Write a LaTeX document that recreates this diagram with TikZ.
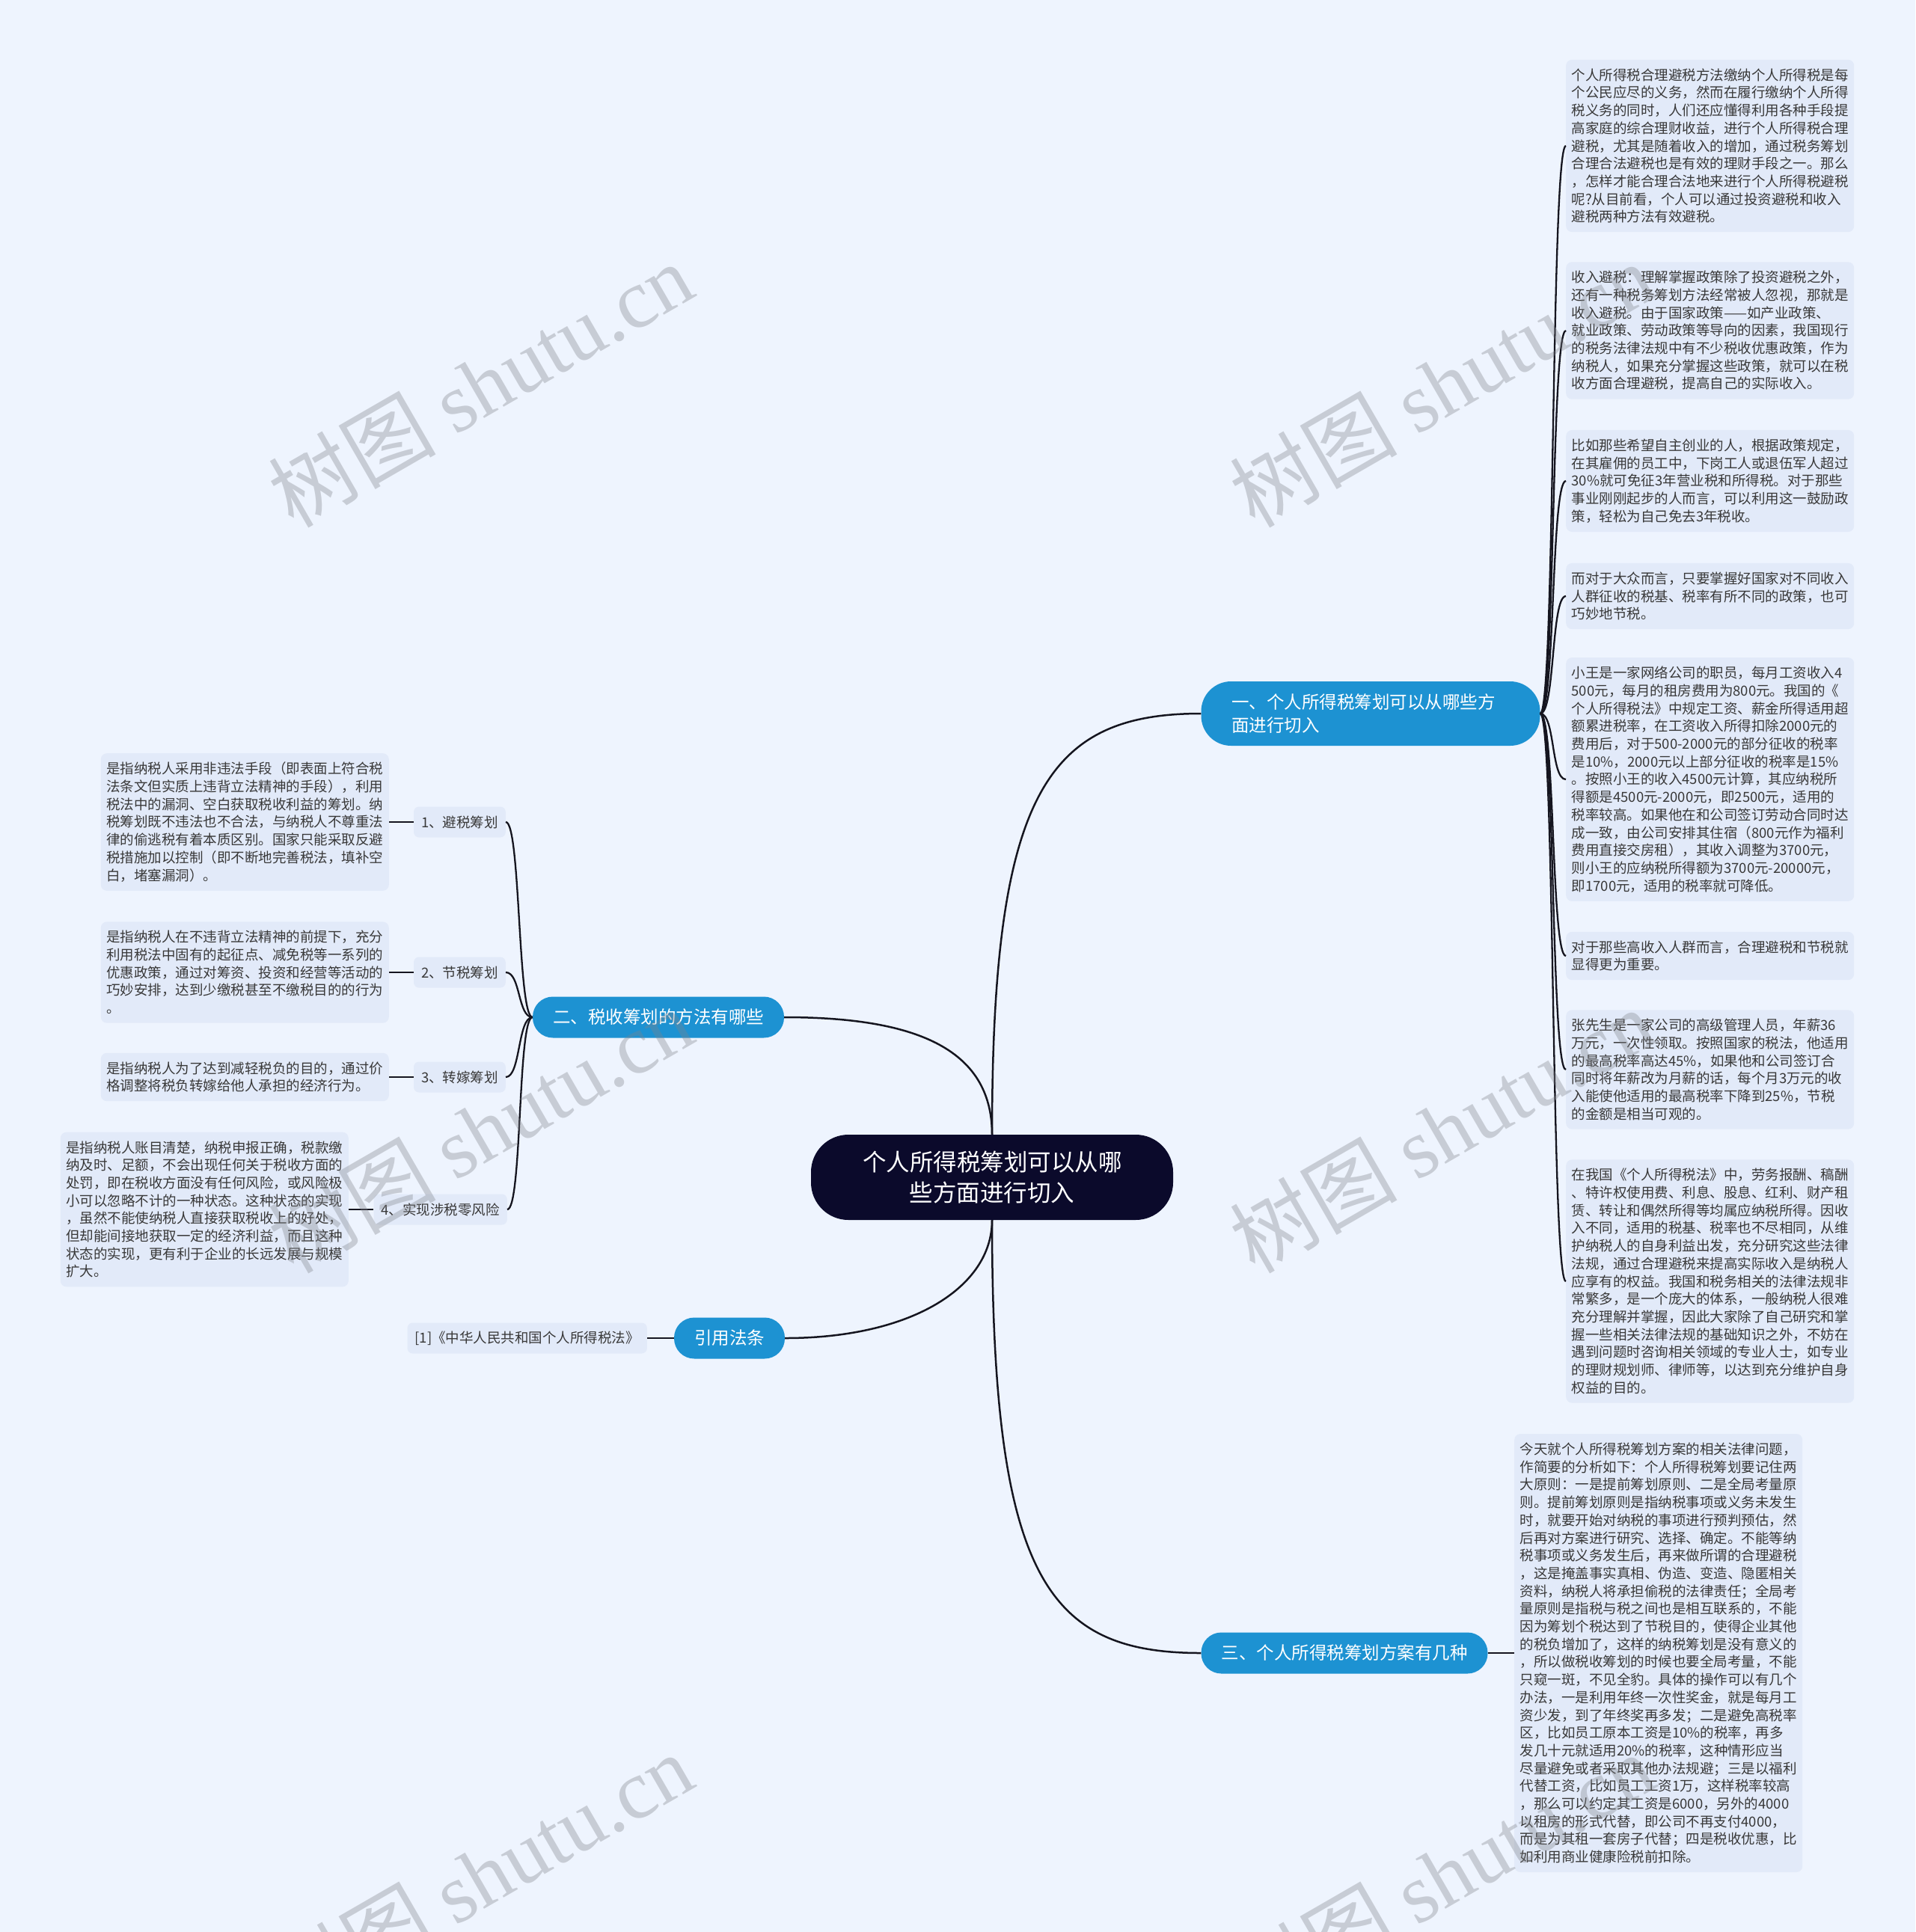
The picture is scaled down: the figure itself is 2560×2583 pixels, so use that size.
\documentclass[tikz,border=0pt]{standalone}
\usepackage{fontspec}
\setmainfont{Noto Sans CJK SC}
\newfontfamily\wmlatin{Liberation Serif}
\usepackage{xcolor}
\usepackage{tikz}

\definecolor{pagebg}{HTML}{EEF4FE}
\definecolor{notefill}{HTML}{E2EAF9}
\definecolor{topicblue}{HTML}{1D92D2}
\definecolor{rootnavy}{HTML}{0B0A2B}
\definecolor{notetext}{HTML}{383838}
\definecolor{linedark}{HTML}{15151F}
\definecolor{wmgray}{HTML}{80838A}

\newcommand{\notesize}{\fontsize{18.5pt}{23.7pt}\selectfont}
\newcommand{\topicsize}{\fontsize{23.5pt}{31pt}\selectfont}
\newcommand{\rootsize}{\fontsize{31.5pt}{41pt}\selectfont}
\newcommand{\wmsize}{\fontsize{112pt}{112pt}\selectfont}

\begin{document}
\begin{tikzpicture}[x=1pt, y=-1pt,
  notebox/.style={fill=notefill, rounded corners=8pt, text=notetext, font=\notesize, text width=370pt, align=left, inner xsep=7.5pt, inner ysep=11.8pt},
  subtag/.style={fill=notefill, rounded corners=7pt, text=notetext, font=\notesize, inner xsep=10pt, inner ysep=2pt, minimum height=41pt},
  topicnode/.style={fill=topicblue, text=white, font=\topicsize, rounded corners=27pt, inner xsep=27pt, inner ysep=2pt, minimum height=55pt},
  rootnode/.style={fill=rootnavy, text=white, font=\rootsize, rounded corners=50pt, text width=346pt, align=center, inner xsep=69pt, inner ysep=2pt, minimum height=114pt},
  branchline/.style={draw=linedark, line width=2.5pt},
  leafline/.style={draw=linedark, line width=2.3pt},
  wmtext/.style={text=wmgray, text opacity=0.35, font=\wmsize, rotate=30}]

        % Page background and size
        \fill[pagebg] (0,0) rectangle (2560,2583);
        \useasboundingbox (0,0) rectangle (2560,2583);

        % Central topic
        \node[rootnode] (root) at (1326,1574) {个人所得税筹划可以从哪\\些方面进行切入};

        % Main branches
        \node[topicnode, text width=372pt, align=left, inner xsep=40.5pt, rounded corners=40pt, minimum height=86pt] (b1) at (1832,954) {一、个人所得税筹划可以从哪些方\\面进行切入};
        \node[topicnode] (b2) at (880,1360) {二、税收筹划的方法有哪些};
        \node[topicnode] (b4) at (975,1789) {引用法条};
        \node[topicnode] (b3) at (1797,2210) {三、个人所得税筹划方案有几种};

        \draw[branchline] (root.north) .. controls (1326,1060) and (1400,954) .. (b1.west);
        \draw[branchline] (root.north) .. controls (1326,1400) and (1220,1360) .. (b2.east);
        \draw[branchline] (root.south) .. controls (1326,1720) and (1220,1789) .. (b4.east);
        \draw[branchline] (root.south) .. controls (1326,2110) and (1400,2210) .. (b3.west);

        % Notes under branch one
        \node[notebox, anchor=west] (r1) at (2093,195) {个人所得税合理避税方法缴纳个人所得税是每\\个公民应尽的义务，然而在履行缴纳个人所得\\税义务的同时，人们还应懂得利用各种手段提\\高家庭的综合理财收益，进行个人所得税合理\\避税，尤其是随着收入的增加，通过税务筹划\\合理合法避税也是有效的理财手段之一。那么\\，怎样才能合理合法地来进行个人所得税避税\\呢?从目前看，个人可以通过投资避税和收入\\避税两种方法有效避税。};
        \node[notebox, anchor=west] (r2) at (2093,442) {收入避税：理解掌握政策除了投资避税之外，\\还有一种税务筹划方法经常被人忽视，那就是\\收入避税。由于国家政策——如产业政策、\\就业政策、劳动政策等导向的因素，我国现行\\的税务法律法规中有不少税收优惠政策，作为\\纳税人，如果充分掌握这些政策，就可以在税\\收方面合理避税，提高自己的实际收入。};
        \node[notebox, anchor=west] (r3) at (2093,643) {比如那些希望自主创业的人，根据政策规定，\\在其雇佣的员工中，下岗工人或退伍军人超过\\30\%就可免征3年营业税和所得税。对于那些\\事业刚刚起步的人而言，可以利用这一鼓励政\\策，轻松为自己免去3年税收。};
        \node[notebox, anchor=west] (r4) at (2093,797) {而对于大众而言，只要掌握好国家对不同收入\\人群征收的税基、税率有所不同的政策，也可\\巧妙地节税。};
        \node[notebox, anchor=west] (r5) at (2093,1042) {小王是一家网络公司的职员，每月工资收入4\\500元，每月的租房费用为800元。我国的《\\个人所得税法》中规定工资、薪金所得适用超\\额累进税率，在工资收入所得扣除2000元的\\费用后，对于500-2000元的部分征收的税率\\是10\%，2000元以上部分征收的税率是15\%\\。按照小王的收入4500元计算，其应纳税所\\得额是4500元-2000元，即2500元，适用的\\税率较高。如果他在和公司签订劳动合同时达\\成一致，由公司安排其住宿（800元作为福利\\费用直接交房租），其收入调整为3700元，\\则小王的应纳税所得额为3700元-20000元，\\即1700元，适用的税率就可降低。};
        \node[notebox, anchor=west] (r6) at (2093,1278) {对于那些高收入人群而言，合理避税和节税就\\显得更为重要。};
        \node[notebox, anchor=west] (r7) at (2093,1430) {张先生是一家公司的高级管理人员，年薪36\\万元，一次性领取。按照国家的税法，他适用\\的最高税率高达45\%，如果他和公司签订合\\同时将年薪改为月薪的话，每个月3万元的收\\入能使他适用的最高税率下降到25\%，节税\\的金额是相当可观的。};
        \node[notebox, anchor=west] (r8) at (2093,1713) {在我国《个人所得税法》中，劳务报酬、稿酬\\、特许权使用费、利息、股息、红利、财产租\\赁、转让和偶然所得等均属应纳税所得。因收\\入不同，适用的税基、税率也不尽相同，从维\\护纳税人的自身利益出发，充分研究这些法律\\法规，通过合理避税来提高实际收入是纳税人\\应享有的权益。我国和税务相关的法律法规非\\常繁多，是一个庞大的体系，一般纳税人很难\\充分理解并掌握，因此大家除了自己研究和掌\\握一些相关法律法规的基础知识之外，不妨在\\遇到问题时咨询相关领域的专业人士，如专业\\的理财规划师、律师等，以达到充分维护自身\\权益的目的。};

        \foreach \r in {r1,r2,r3,r4,r5,r6,r7,r8}
            \draw[leafline] (b1.east) .. controls +(20,0) and +(-20,0) .. (\r.west);

        % Note under branch three
        \node[notebox, anchor=west] (r9) at (2024,2210) {今天就个人所得税筹划方案的相关法律问题，\\作简要的分析如下：个人所得税筹划要记住两\\大原则：一是提前筹划原则、二是全局考量原\\则。提前筹划原则是指纳税事项或义务未发生\\时，就要开始对纳税的事项进行预判预估，然\\后再对方案进行研究、选择、确定。不能等纳\\税事项或义务发生后，再来做所谓的合理避税\\，这是掩盖事实真相、伪造、变造、隐匿相关\\资料，纳税人将承担偷税的法律责任；全局考\\量原则是指税与税之间也是相互联系的，不能\\因为筹划个税达到了节税目的，使得企业其他\\的税负增加了，这样的纳税筹划是没有意义的\\，所以做税收筹划的时候也要全局考量，不能\\只窥一斑，不见全豹。具体的操作可以有几个\\办法，一是利用年终一次性奖金，就是每月工\\资少发，到了年终奖再多发；二是避免高税率\\区，比如员工原本工资是10\%的税率，再多\\发几十元就适用20\%的税率，这种情形应当\\尽量避免或者采取其他办法规避；三是以福利\\代替工资，比如员工工资1万，这样税率较高\\，那么可以约定其工资是6000，另外的4000\\以租房的形式代替，即公司不再支付4000，\\而是为其租一套房子代替；四是税收优惠，比\\如利用商业健康险税前扣除。};
        \draw[leafline] (b3.east) -- (r9.west);

        % Methods under branch two
        \node[subtag, anchor=east] (t1) at (676,1099) {1、避税筹划};
        \node[subtag, anchor=east] (t2) at (676,1300) {2、节税筹划};
        \node[subtag, anchor=east] (t3) at (676,1440) {3、转嫁筹划};
        \node[subtag, anchor=east] (t4) at (678,1617) {4、实现涉税零风险};

        \foreach \t in {t1,t2,t3,t4}
            \draw[leafline] (b2.west) .. controls +(-20,0) and +(20,0) .. (\t.east);

        \node[notebox, anchor=east] (n1) at (520,1099) {是指纳税人采用非违法手段（即表面上符合税\\法条文但实质上违背立法精神的手段），利用\\税法中的漏洞、空白获取税收利益的筹划。纳\\税筹划既不违法也不合法，与纳税人不尊重法\\律的偷逃税有着本质区别。国家只能采取反避\\税措施加以控制（即不断地完善税法，填补空\\白，堵塞漏洞）。};
        \node[notebox, anchor=east] (n2) at (520,1300) {是指纳税人在不违背立法精神的前提下，充分\\利用税法中固有的起征点、减免税等一系列的\\优惠政策，通过对筹资、投资和经营等活动的\\巧妙安排，达到少缴税甚至不缴税目的的行为\\。};
        \node[notebox, anchor=east] (n3) at (520,1440) {是指纳税人为了达到减轻税负的目的，通过价\\格调整将税负转嫁给他人承担的经济行为。};
        \node[notebox, anchor=east] (n4) at (466,1617) {是指纳税人账目清楚，纳税申报正确，税款缴\\纳及时、足额，不会出现任何关于税收方面的\\处罚，即在税收方面没有任何风险，或风险极\\小可以忽略不计的一种状态。这种状态的实现\\，虽然不能使纳税人直接获取税收上的好处，\\但却能间接地获取一定的经济利益，而且这种\\状态的实现，更有利于企业的长远发展与规模\\扩大。};

        \draw[leafline] (n1.east) -- (t1.west);
        \draw[leafline] (n2.east) -- (t2.west);
        \draw[leafline] (n3.east) -- (t3.west);
        \draw[leafline] (n4.east) -- (t4.west);

        % Cited law
        \node[subtag, anchor=east] (law) at (865,1789) {[1]《中华人民共和国个人所得税法》};
        \draw[leafline] (law.east) -- (b4.west);

        % Watermarks on top
        \begin{scope}
            \clip (0,0) rectangle (2560,2583);
            \node[wmtext] (wm1) at (642,514) {树图 {\wmlatin shutu.cn}};
            \node[wmtext] (wm2) at (1927,514) {树图 {\wmlatin shutu.cn}};
            \node[wmtext] (wm3) at (642,1511) {树图 {\wmlatin shutu.cn}};
            \node[wmtext] (wm4) at (1927,1511) {树图 {\wmlatin shutu.cn}};
            \node[wmtext] (wm5) at (642,2507) {树图 {\wmlatin shutu.cn}};
            \node[wmtext] (wm6) at (1927,2507) {树图 {\wmlatin shutu.cn}};
        \end{scope}
\end{tikzpicture}
\end{document}
